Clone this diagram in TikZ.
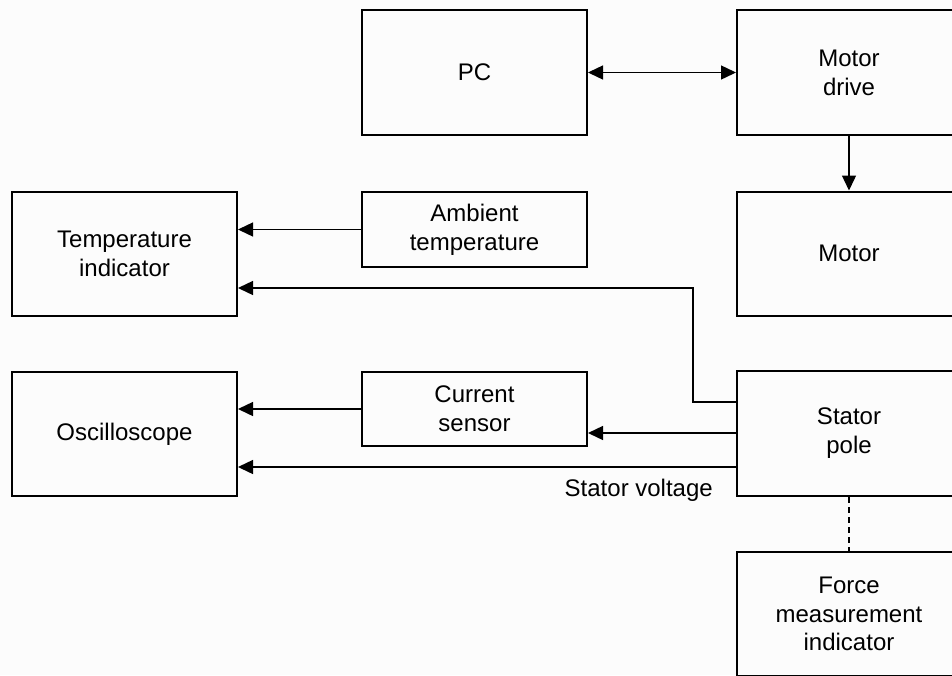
\documentclass[tikz,border=0pt]{standalone}
\usepackage{fontspec}
\setmainfont{Liberation Sans}
\usetikzlibrary{arrows.meta}
\begin{document}
\begin{tikzpicture}[x=1pt,y=-1pt,
  blk/.style={draw, line width=2pt, inner sep=0pt, align=center,
    font=\fontsize{24}{28.8}\selectfont},
  conn/.style={line width=1.4pt},
  arr/.style={conn, -{Triangle[length=15pt,width=14pt]}},
  darr/.style={conn, {Triangle[length=15pt,width=14pt]}-{Triangle[length=15pt,width=14pt]}}
]
\useasboundingbox (0,0) rectangle (952,675);
\clip (0,0) rectangle (952,675);
\fill[white!99!black] (0,0) rectangle (952,675);
\node[blk, minimum width=225pt, minimum height=125pt] (pc) at (474.5,72.5) {PC};
\node[blk, minimum width=224pt, minimum height=125pt] (drive) at (849,72.5) {Motor\\drive};
\node[blk, minimum width=224pt, minimum height=124pt] (motor) at (849,253.5) {Motor};
\node[blk, minimum width=225pt, minimum height=124pt] (temp) at (124.5,253.5) {Temperature\\indicator};
\node[blk, minimum width=225pt, minimum height=75pt] (amb) at (474.5,229.5) {Ambient\\temperature};
\node[blk, minimum width=225pt, minimum height=124pt] (osc) at (124.5,434) {Oscilloscope};
\node[blk, minimum width=225pt, minimum height=74pt] (cur) at (474.5,409) {Current\\sensor};
\node[blk, minimum width=224pt, minimum height=125pt] (stator) at (849,433.5) {Stator\\pole};
\node[blk, minimum width=224pt, minimum height=124pt] (force) at (849,614) {Force\\measurement\\indicator};
\coordinate (bendA) at (693,402);
\coordinate (bendB) at (693,288);
\node[anchor=east, inner sep=0pt, font=\fontsize{24}{28.8}\selectfont] (sv) at (713,490) {Stator voltage};

\draw[darr] (pc.east) -- (drive.west);
\draw[arr] (drive.south) -- (motor.north);
\draw[arr] (amb.west) -- (amb.west -| temp.east);
\draw[arr] (stator.west |- bendA) -- (bendA) -- (bendB) -- (bendB -| temp.east);
\draw[arr] (cur.west) -- (cur.west -| osc.east);
\draw[arr] (stator.west |- 0,433) -- (cur.east |- 0,433);
\draw[arr] (stator.west |- 0,467) -- (osc.east |- 0,467);
\draw[conn, dashed, dash pattern=on 6pt off 4pt] (stator.south) -- (force.north);
\end{tikzpicture}
\end{document}
